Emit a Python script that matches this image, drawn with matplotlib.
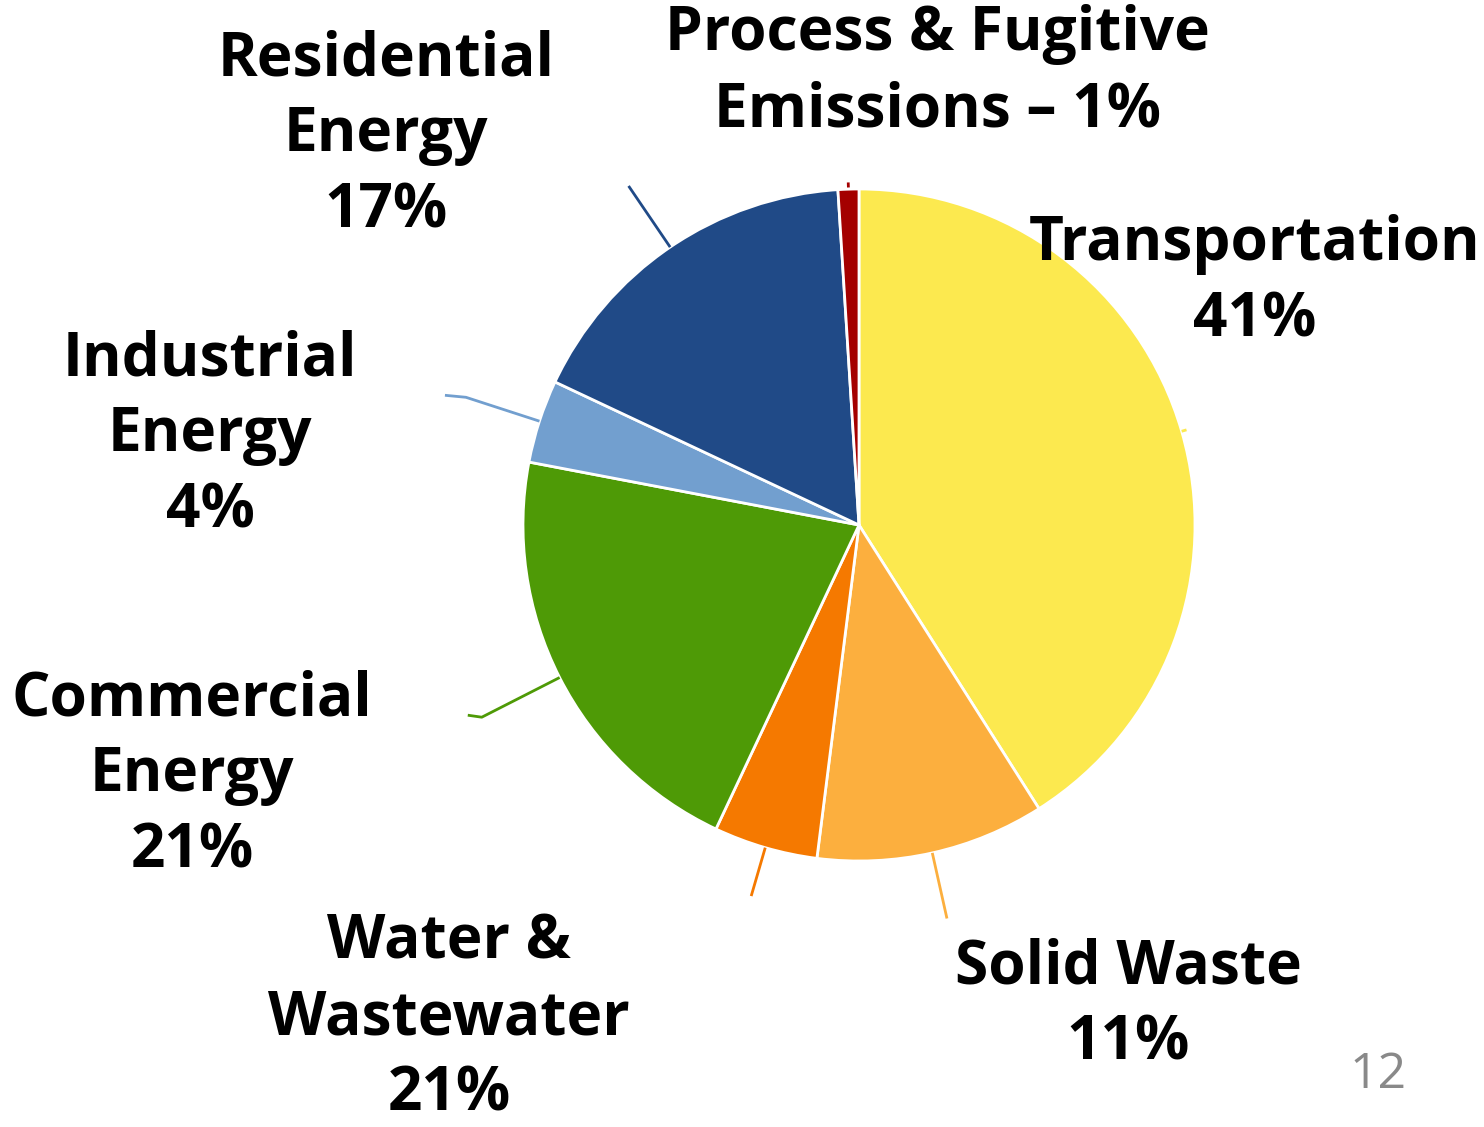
import numpy as np
import matplotlib
matplotlib.use("Agg")
import matplotlib.pyplot as plt

plt.rcParams['font.family'] = ['Open Sans', 'DejaVu Sans']

# slices, clockwise from 12 o'clock
sectors = ['Transportation', 'Solid Waste', 'Water & Wastewater', 'Commercial Energy',
           'Industrial Energy', 'Residential Energy', 'Process & Fugitive Emissions']
shares = [41, 11, 5, 21, 4, 17, 1]
labels = ['Transportation\n41%', 'Solid Waste\n11%', 'Water &\nWastewater\n21%',
          'Commercial\nEnergy\n21%', 'Industrial\nEnergy\n4%', 'Residential\nEnergy\n17%',
          'Process & Fugitive\nEmissions \u2013 1%']
colors = ['#FCE94F', '#FCAF3E', '#F57900', '#4E9A06', '#729FCF', '#204A87', '#A40000']

# label placement (pixels, image coords) and leader line lengths
label_xy = [(1255, 283), (1128, 1006), (449, 1019), (192, 776), (210, 436), (386, 136), (937, 73)]
leader = [(1.0, 1.015, 0), (1.0, 1.2, 0), (1.0, 1.15, 0), (1.0, 1.26, -14),
          (1.0, 1.23, -21), (1.0, 1.22, 0), (1.005, 1.02, 0)]

W, H = 1484, 1127
cx, cy, r = 859, H - 525, 336

fig = plt.figure(figsize=(W / 100, H / 100), dpi=100)
ax = fig.add_axes([0, 0, 1, 1])
wedges, _ = ax.pie(shares, colors=colors, startangle=90, counterclock=False,
                   center=(cx, cy), radius=r,
                   wedgeprops=dict(edgecolor='white', linewidth=2))
ax.set_xlim(0, W)
ax.set_ylim(0, H)
ax.axis('off')

for w, (k0, k1, dx), col in zip(wedges, leader, colors):
    th = np.deg2rad((w.theta1 + w.theta2) / 2)
    xs = [cx + k0 * r * np.cos(th), cx + k1 * r * np.cos(th)]
    ys = [cy + k0 * r * np.sin(th), cy + k1 * r * np.sin(th)]
    if dx:
        xs.append(xs[-1] + dx)
        ys.append(ys[-1] + 2)
    ax.plot(xs, ys, color=col, lw=2, solid_capstyle='butt', zorder=1)

for txt, (x, y) in zip(labels, label_xy):
    ax.text(x, H - y, txt, ha='center', va='center', fontsize=43.5,
            fontweight='bold', linespacing=1.33, color='black', zorder=5)

ax.text(1378, H - 1075, '12', ha='center', va='center', fontsize=36, color='#898989')

fig.savefig('out.png', dpi=100)
